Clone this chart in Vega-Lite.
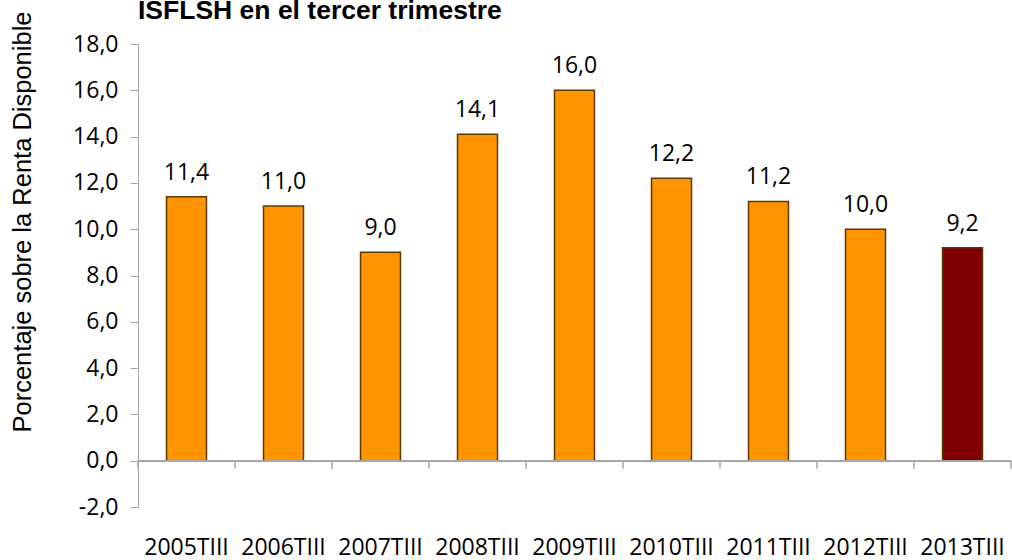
{
  "$schema": "https://vega.github.io/schema/vega-lite/v6.json",
  "width": 873,
  "height": 463,
  "autosize": {"type": "none"},
  "padding": {"left": 138, "top": 44, "right": 1, "bottom": 53},
  "background": "white",
  "config": {
    "view": {"stroke": null},
    "font": "Open Sans",
    "locale": {"number": {"decimal": ",", "thousands": ".", "grouping": [3], "currency": ["", " €"], "minus": "-"}}
  },
  "title": {
    "text": "ISFLSH en el tercer trimestre",
    "anchor": "start",
    "frame": "group",
    "font": "Liberation Sans",
    "fontSize": 26.5,
    "fontWeight": "bold",
    "baseline": "alphabetic",
    "offset": 0,
    "dy": 34,
    "color": "black"
  },
  "data": {
    "values": [
      {"periodo": "2005TIII", "valor": 11.4},
      {"periodo": "2006TIII", "valor": 11.0},
      {"periodo": "2007TIII", "valor": 9.0},
      {"periodo": "2008TIII", "valor": 14.1},
      {"periodo": "2009TIII", "valor": 16.0},
      {"periodo": "2010TIII", "valor": 12.2},
      {"periodo": "2011TIII", "valor": 11.2},
      {"periodo": "2012TIII", "valor": 10.0},
      {"periodo": "2013TIII", "valor": 9.2}
    ]
  },
  "layer": [
    {
      "mark": {"type": "bar", "width": {"band": 0.412}, "stroke": "#5a3a00", "strokeWidth": 1.5},
      "encoding": {
        "x": {
          "field": "periodo", "type": "nominal", "sort": null,
          "scale": {"type": "band", "paddingInner": 0, "paddingOuter": 0},
          "axis": {"title": null, "labelAngle": 0, "domain": false, "ticks": false, "labelPadding": 29, "labelFontSize": 23, "labelFont": "Open Sans", "labelColor": "black"}
        },
        "y": {
          "field": "valor", "type": "quantitative",
          "scale": {"domain": [-2, 18], "nice": false, "zero": false},
          "axis": {
            "title": "Porcentaje sobre la Renta Disponible",
            "values": [-2, 0, 2, 4, 6, 8, 10, 12, 14, 16, 18],
            "format": ".1f", "grid": false,
            "domainColor": "#a6a6a6", "tickColor": "#a6a6a6", "tickSize": 8,
            "labelPadding": 12, "labelFontSize": 23, "labelFont": "Open Sans", "labelColor": "black",
            "titleFont": "Liberation Sans", "titleFontSize": 25.5, "titleFontWeight": "normal", "titleColor": "black",
            "titleAngle": 270, "titleAlign": "left", "titleBaseline": "alphabetic", "titleX": -108, "titleY": 388
          }
        },
        "color": {"condition": {"test": "datum.periodo === '2013TIII'", "value": "#800000"}, "value": "#FF9400"}
      }
    },
    {
      "mark": {"type": "rule", "color": "#a6a6a6", "strokeWidth": 1.5},
      "encoding": {"y": {"datum": 0}}
    },
    {
      "mark": {"type": "rule", "color": "#a6a6a6", "strokeWidth": 1.5},
      "encoding": {
        "x": {"field": "periodo", "type": "nominal", "sort": null, "bandPosition": 0, "scale": {"type": "band", "paddingInner": 0, "paddingOuter": 0}},
        "y": {"datum": 0},
        "y2": {"datum": -0.35}
      }
    },
    {
      "transform": [{"filter": "datum.periodo === '2013TIII'"}],
      "mark": {"type": "rule", "color": "#a6a6a6", "strokeWidth": 1.5},
      "encoding": {
        "x": {"field": "periodo", "type": "nominal", "sort": null, "bandPosition": 1, "scale": {"type": "band", "paddingInner": 0, "paddingOuter": 0}},
        "y": {"datum": 0},
        "y2": {"datum": -0.35}
      }
    },
    {
      "mark": {"type": "text", "dy": -17, "baseline": "alphabetic", "fontSize": 23, "font": "Open Sans", "color": "black"},
      "encoding": {
        "x": {"field": "periodo", "type": "nominal", "sort": null, "scale": {"type": "band", "paddingInner": 0, "paddingOuter": 0}},
        "y": {"field": "valor", "type": "quantitative"},
        "text": {"field": "valor", "type": "quantitative", "format": ".1f"}
      }
    }
  ]
}
